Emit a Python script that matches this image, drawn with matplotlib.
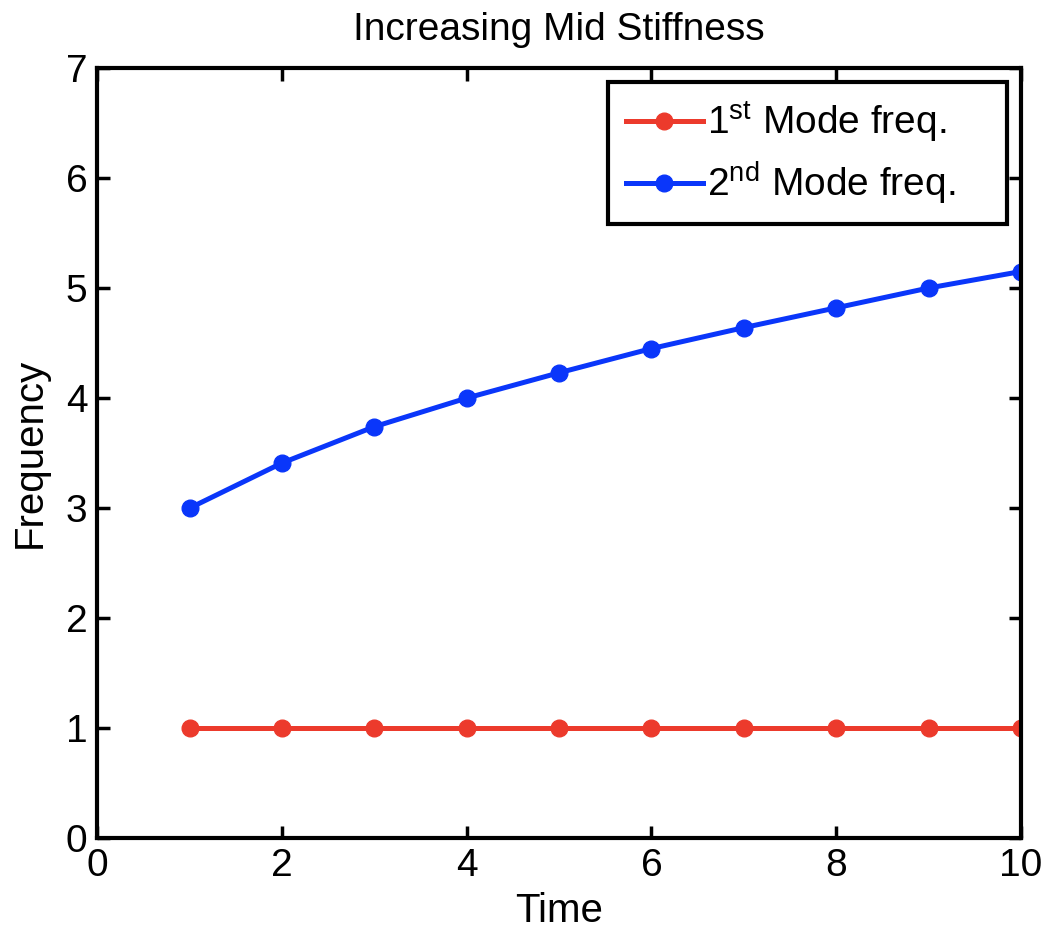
import matplotlib.pyplot as plt
import numpy as np

plt.rcParams['font.family'] = ['Liberation Sans', 'DejaVu Sans']
plt.rcParams['mathtext.fontset'] = 'custom'
plt.rcParams['mathtext.rm'] = 'Liberation Sans'

time = np.arange(1, 11)
mode1 = [1, 1, 1, 1, 1, 1, 1, 1, 1, 1]
mode2 = [3.0, 3.41, 3.74, 4.0, 4.23, 4.45, 4.64, 4.82, 5.0, 5.15]
x_ticks = [0, 2, 4, 6, 8, 10]
y_ticks = [0, 1, 2, 3, 4, 5, 6, 7]

fig = plt.figure(figsize=(10.45, 9.43), dpi=100)
ax = fig.add_axes([0.093, 0.111, 0.884, 0.817])

ax.plot(time, mode1, '-o', color='#ec3a2c', lw=3.6, ms=12, label='1$^{\\rm st}$ Mode freq.')
ax.plot(time, mode2, '-o', color='#0a36fa', lw=3.6, ms=12, label='2$^{\\rm nd}$ Mode freq.')

ax.set_xlim(0, 10)
ax.set_ylim(0, 7)
ax.set_xticks(x_ticks)
ax.set_yticks(y_ticks)
ax.tick_params(direction='in', top=True, right=True, length=9, width=2.5,
               labelsize=28, pad=7)
for s in ax.spines.values():
    s.set_linewidth(3)

ax.set_title('Increasing Mid Stiffness', fontsize=28, pad=20)
ax.set_xlabel('Time', fontsize=29, labelpad=6)
ax.set_ylabel('Frequency', fontsize=29, labelpad=12)

# legend box stretched to the width used in the original
leg = ax.legend(loc='upper left', bbox_to_anchor=(0.553, 0.5, 0.432, 0.482),
                mode='expand', borderaxespad=0, fontsize=28, fancybox=False,
                framealpha=1, edgecolor='black', handlelength=2.0,
                handletextpad=0.1, borderpad=0.45, labelspacing=0.4)
leg.get_frame().set_linewidth(3)

fig.savefig('out.png', dpi=100)
